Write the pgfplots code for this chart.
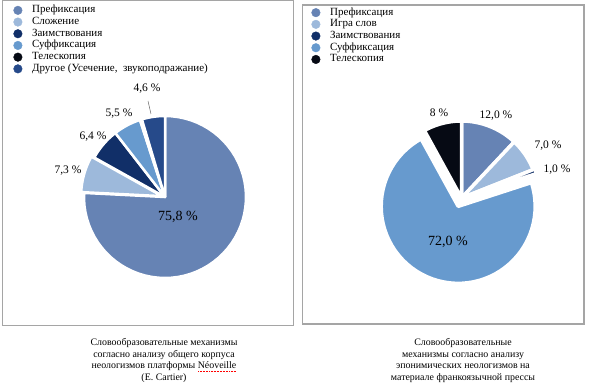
\documentclass[border=0pt]{standalone}
\usepackage{pgfplots}
\pgfplotsset{compat=1.18}
\usepackage{fontspec}
\setmainfont{Liberation Serif}
\definecolor{cP}{RGB}{102,131,180}
\definecolor{cS}{RGB}{157,185,219}
\definecolor{cZ}{RGB}{17,47,104}
\definecolor{cF}{RGB}{103,154,206}
\definecolor{cT}{RGB}{6,10,20}
\definecolor{cD}{RGB}{38,74,138}
\definecolor{frame}{RGB}{165,165,165}
\newsavebox\nvbox
\newcommand\redsquig[1]{\sbox\nvbox{#1}\rlap{\color{red}\raisebox{-2.4bp}{\hbox to \wd\nvbox{\xleaders\hbox to 1.5bp{\hss\rule{0.8bp}{0.7bp}\hss}\hfill}}}\usebox\nvbox}
\newcommand\lf{\fontsize{11bp}{11.7bp}\selectfont}
% image-pixel coordinates: x to the right, y downwards (plotted as -y)
% #1 cx, #2 cy, #3 r, #4 cumulative start (%), #5 value (%), #6 colour, #7 explode, #8 border
\newcommand\slice[8]{%
  \addplot[forget plot, fill=#6, draw=white, line width=#8bp, line join=round,
    domain=90-3.6*(#4+#5):90-3.6*(#4), samples=60, variable=\t]
  ({#1 + #7*cos(90-3.6*(#4+#5/2)) + #3*cos(\t)},
   {-#2 + #7*sin(90-3.6*(#4+#5/2)) + #3*sin(\t)})
  -- (axis cs:{#1 + #7*cos(90-3.6*(#4+#5/2))},{-#2 + #7*sin(90-3.6*(#4+#5/2))}) -- cycle;
}
\pgfplotsset{panel/.style={scale only axis, width=300bp, height=390bp,
  ymin=-390, ymax=0, hide axis, clip=false,
  legend cell align=left,
  legend style={draw=none, fill=none, inner sep=0pt, outer sep=0pt,
    font=\lf, row sep=0pt, column sep=9.7bp,
    nodes={inner sep=0pt, text height=8.2bp, text depth=3.5bp}}},
  dot/.style={legend image code/.code={\fill[#1] (0,0) circle (4.3bp);}}}
\begin{document}
\begin{tikzpicture}
\useasboundingbox (0,0) rectangle (600bp,390bp);
% ---------------- left panel ----------------
\begin{axis}[panel, at={(0,0)}, anchor=south west, xmin=0, xmax=300,
  legend style={at={(axis cs:13.4,-4.5)}, anchor=north west}]
\draw[frame, line width=1bp] (axis cs:2.5,-0.5) rectangle (axis cs:293,-326);
\addlegendimage{dot=cP}
\addlegendentry{Префиксация}
\addlegendimage{dot=cS}
\addlegendentry{Сложение}
\addlegendimage{dot=cZ}
\addlegendentry{Заимствования}
\addlegendimage{dot=cF}
\addlegendentry{Суффиксация}
\addlegendimage{dot=cT}
\addlegendentry{Телескопия}
\addlegendimage{dot=cD}
\addlegendentry{Другое (Усечение,\ \ звукоподражание)}
\slice{165}{197}{81}{0}{75.8}{cP}{0}{2.5}
\slice{165}{197}{81}{75.8}{7.3}{cS}{3}{2.5}
\slice{165}{197}{81}{83.1}{6.4}{cZ}{0}{2.5}
\slice{165}{197}{81}{89.5}{5.5}{cF}{0}{2.5}
\slice{165}{197}{81}{95.0}{0.4}{cT}{0}{2.5}
\slice{165}{197}{81}{95.4}{4.6}{cD}{0}{2.5}
\draw[black!60, line width=0.5bp] (axis cs:148,-101) -- (axis cs:151,-114);
\begin{scope}[font=\fontsize{11.5bp}{12bp}\selectfont]
\node at (axis cs:178,-217) {\fontsize{14bp}{14bp}\selectfont 75,8 \%};
\node at (axis cs:68,-171) {7,3 \%};
\node at (axis cs:93,-137) {6,4 \%};
\node at (axis cs:119,-114) {5,5 \%};
\node at (axis cs:147,-89) {4,6 \%};
\end{scope}
\node[align=center, font=\fontsize{9.9bp}{11.7bp}\selectfont] at (axis cs:164,-360.5)
  {Словообразовательные механизмы\\согласно анализу общего корпуса\\неологизмов платформы \redsquig{Néoveille}\\(E. Cartier)};
\end{axis}
% ---------------- right panel ----------------
\begin{axis}[panel, at={(300bp,0)}, anchor=south west, xmin=300, xmax=600,
  legend style={at={(axis cs:311.4,-6.8)}, anchor=north west}]
\draw[frame, line width=1.3bp] (axis cs:302.5,-5) rectangle (axis cs:584,-324);
\addlegendimage{dot=cP}
\addlegendentry{Префиксация}
\addlegendimage{dot=cS}
\addlegendentry{Игра слов}
\addlegendimage{dot=cZ}
\addlegendentry{Заимствования}
\addlegendimage{dot=cF}
\addlegendentry{Суффиксация}
\addlegendimage{dot=cT}
\addlegendentry{Телескопия}
\slice{461.5}{198}{77}{0}{12}{cP}{0}{3.5}
\slice{461.5}{198}{77}{12}{7}{cS}{0}{3.5}
\slice{461.5}{198}{77}{19}{1}{cZ}{2}{3.5}
\slice{461.5}{198}{77}{20}{72}{cF}{9}{3.5}
\slice{461.5}{198}{77}{92}{8}{cT}{0}{3.5}
\begin{scope}[font=\fontsize{11.5bp}{12bp}\selectfont]
\node at (axis cs:448,-242) {\fontsize{14bp}{14bp}\selectfont 72,0 \%};
\node at (axis cs:496,-116) {12,0 \%};
\node at (axis cs:548,-146) {7,0 \%};
\node at (axis cs:557,-170) {1,0 \%};
\node at (axis cs:439,-113) {8 \%};
\end{scope}
\node[align=center, font=\fontsize{9.9bp}{11.7bp}\selectfont] at (axis cs:463,-360.5)
  {Словообразовательные\\механизмы согласно анализу\\эпонимических неологизмов на\\материале франкоязычной прессы};
\end{axis}
\end{tikzpicture}
\end{document}
